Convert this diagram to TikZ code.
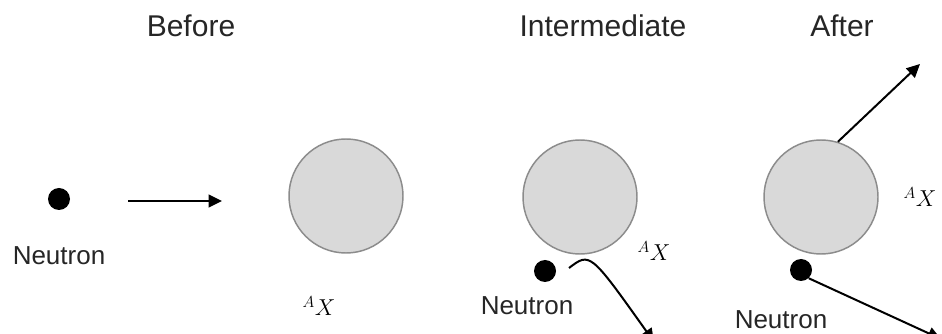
\documentclass[tikz,border=0pt]{standalone}
\usepackage{fontspec}
\setmainfont{Liberation Sans}
\usetikzlibrary{arrows.meta}
\definecolor{nucfill}{HTML}{D9D9D9}
\definecolor{nucline}{HTML}{8C8C8C}
\definecolor{txt}{HTML}{262626}
\begin{document}
\begin{tikzpicture}[x=0.75pt,y=-0.75pt,
  nucleus/.style={circle,draw=nucline,fill=nucfill,line width=1.1pt,minimum size=85.5pt,inner sep=0pt},
  neutron/.style={circle,fill=black,minimum size=16.5pt,inner sep=0pt},
  title/.style={anchor=base,text=txt,font=\fontsize{22.5}{26}\selectfont,inner sep=0pt},
  lbl/.style={anchor=base,text=txt,font=\fontsize{19.5}{23}\selectfont,inner sep=0pt},
  iso/.style={anchor=base,inner sep=0pt,font=\fontsize{17.5}{20}\selectfont},
  arr/.style={line width=1.5pt,-{Triangle[length=10pt,width=9.5pt]}}]
\useasboundingbox[fill=white] (0,0) rectangle (942,334);
% titles
\node[title] (tb) at (191,37) {Before};
\node[title] (ti) at (603,37) {Intermediate};
\node[title] (ta) at (842,37) {After};
% before
\node[neutron] (bn) at (59,199) {};
\node[lbl] (bl) at (59,265) {Neutron};
\coordinate (ba1) at (128,201);
\coordinate (ba2) at (222,201);
\draw[arr] (ba1) -- (ba2);
\node[nucleus] (bc) at (346,196) {};
\node[iso] (bx) at (319,316) {$^{A}X$};
% intermediate
\node[nucleus] (ic) at (580,197) {};
\node[iso] (ix) at (654,261) {$^{A}X$};
\node[neutron] (in) at (545,271) {};
\node[lbl] (il) at (527,315) {Neutron};
\coordinate (ia1) at (569,268);
\coordinate (ia2) at (654,342);
\draw[arr] (ia1) .. controls (590,252) .. (ia2);
% after
\node[nucleus] (ac) at (821,197) {};
\node[iso] (ax) at (920,207) {$^{A}X$};
\node[neutron] (an) at (801,270) {};
\node[lbl] (al) at (781,329) {Neutron};
\coordinate (aa1) at (920,64);
\coordinate (aa2) at (941,339);
\draw[arr] (ac.73) -- (aa1);
\draw[arr] (an.-47) -- (aa2);
\end{tikzpicture}
\end{document}
